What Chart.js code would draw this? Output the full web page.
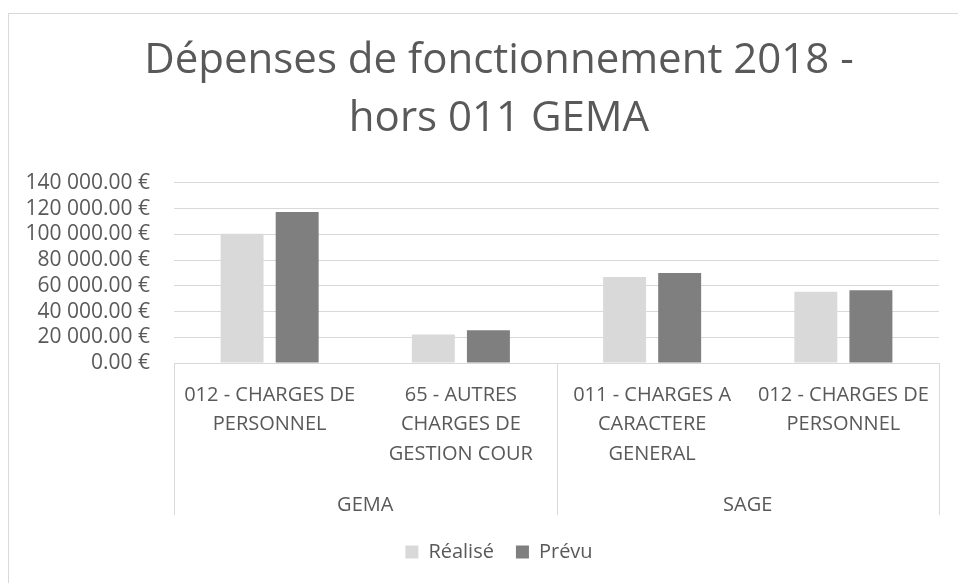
<!DOCTYPE html>
<html lang="fr">
<head>
<meta charset="utf-8">
<title>Dépenses de fonctionnement 2018</title>
<script src="https://cdn.jsdelivr.net/npm/chart.js@4.4.1/dist/chart.umd.min.js"></script>
<style>
    html, body { margin: 0; padding: 0; background: #fff; overflow: hidden; }
    #cadre {
        position: absolute; left: 8px; top: 13px;
        width: 980px; height: 570px;
        border-left: 1px solid #d9d9d9; border-top: 1px solid #d9d9d9;
    }
    #cadre canvas { display: block; }
</style>
</head>
<body>
<div id="cadre"><canvas id="chartDepenses" width="980" height="570"></canvas></div>
<script>
/* ====================================
   DONNÉES
   ==================================== */

const categories = [
    ['012 - CHARGES DE', 'PERSONNEL'],
    ['65 - AUTRES', 'CHARGES DE', 'GESTION COUR'],
    ['011 - CHARGES A', 'CARACTERE', 'GENERAL'],
    ['012 - CHARGES DE', 'PERSONNEL']
];
const groupes = ['GEMA', 'SAGE'];
const tailleGroupes = [2, 2];

const realise = [100500, 22200, 66900, 55400];
const prevu = [117400, 25500, 70000, 56500];

const yTicks = [0, 20000, 40000, 60000, 80000, 100000, 120000, 140000];

const GRIS_TEXTE = '#595959';
const GRIS_LIGNE = '#d9d9d9';
const POLICE = "'Open Sans', 'Liberation Sans', sans-serif";

function formatEuro(v) {
    const [ent, dec] = Number(v).toFixed(2).split('.');
    return ent.replace(/\B(?=(\d{3})+(?!\d))/g, ' ') + '.' + dec + ' €';
}

// séparateurs verticaux de l'axe à deux niveaux
const separateurs = {
    id: 'separateurs',
    afterDraw(chart) {
        const x = chart.scales.x;
        const x2 = chart.scales.x2;
        const ctx = chart.ctx;
        const demi = (x.getPixelForValue(1) - x.getPixelForValue(0)) / 2;
        const bords = [0];
        tailleGroupes.reduce((acc, n) => { bords.push(acc + n); return acc + n; }, 0);

        ctx.save();
        ctx.strokeStyle = GRIS_LIGNE;
        ctx.lineWidth = 1;
        bords.forEach(b => {
            const px = Math.round(b === 0 ? x.getPixelForValue(0) - demi : x.getPixelForValue(b - 1) + demi) + 0.5;
            ctx.beginPath();
            ctx.moveTo(px, chart.chartArea.bottom);
            ctx.lineTo(px, x2.top + 49);
            ctx.stroke();
        });
        ctx.restore();
    }
};

const ctx = document.getElementById('chartDepenses');

new Chart(ctx, {
    type: 'bar',
    data: {
        labels: categories,
        datasets: [
            {
                label: 'Réalisé',
                data: realise,
                backgroundColor: '#d9d9d9',
                borderWidth: 0
            },
            {
                label: 'Prévu',
                data: prevu,
                backgroundColor: '#7f7f7f',
                borderWidth: 0
            }
        ]
    },
    options: {
        responsive: false,
        animation: false,
        categoryPercentage: 0.576,
        barPercentage: 0.78,
        layout: {
            padding: { top: 0, bottom: 12, left: 0, right: 0 }
        },
        plugins: {
            title: {
                display: true,
                text: ['Dépenses de fonctionnement 2018 -', 'hors 011 GEMA'],
                color: GRIS_TEXTE,
                font: { family: POLICE, size: 42, weight: 'normal', lineHeight: 1.38 },
                padding: { top: 18, bottom: 35 }
            },
            legend: {
                position: 'bottom',
                labels: {
                    color: GRIS_TEXTE,
                    font: { family: POLICE, size: 20 },
                    boxWidth: 13,
                    boxHeight: 13,
                    padding: 22
                }
            },
            tooltip: { enabled: false }
        },
        scales: {
            y: {
                min: 0,
                max: 140000,
                afterBuildTicks: (axis) => {
                    axis.ticks = yTicks.map(v => ({ value: v }));
                },
                afterFit: (axis) => { axis.width = 165; },
                ticks: {
                    color: GRIS_TEXTE,
                    font: { family: POLICE, size: 21 },
                    padding: 24,
                    autoSkip: false,
                    callback: (v) => formatEuro(v)
                },
                grid: { color: GRIS_LIGNE, drawTicks: false },
                border: { display: false }
            },
            yR: {
                position: 'right',
                display: true,
                afterFit: (axis) => { axis.width = 50; },
                ticks: { display: false },
                grid: { display: false },
                border: { display: false }
            },
            x: {
                afterFit: (axis) => { axis.height = 103; },
                ticks: {
                    color: GRIS_TEXTE,
                    font: { family: POLICE, size: 20, lineHeight: 1.48 },
                    padding: 17,
                    maxRotation: 0,
                    autoSkip: false
                },
                grid: { display: false, drawTicks: false },
                border: { display: true, color: GRIS_LIGNE }
            },
            x2: {
                type: 'category',
                labels: groupes,
                position: 'bottom',
                afterFit: (axis) => { axis.height = 54; },
                ticks: {
                    color: GRIS_TEXTE,
                    font: { family: POLICE, size: 20, lineHeight: 1.48 },
                    padding: 24,
                    maxRotation: 0
                },
                grid: { display: false, drawTicks: false },
                border: { display: false }
            }
        }
    },
    plugins: [separateurs]
});
</script>
</body>
</html>
